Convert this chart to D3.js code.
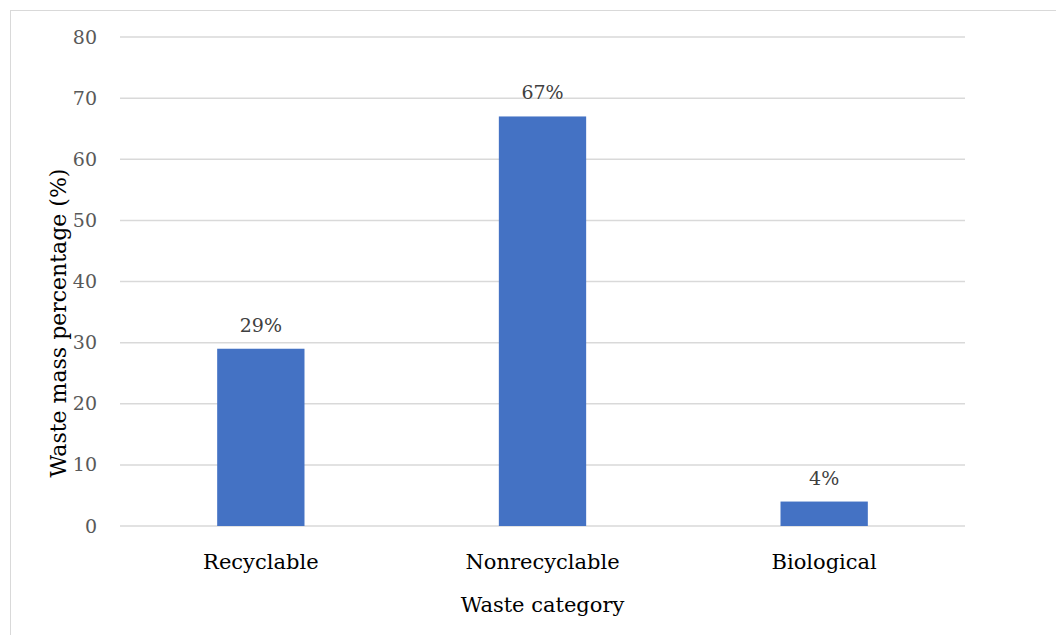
<!DOCTYPE html>
<html>
<head>
<meta charset="utf-8">
<script src="https://cdn.jsdelivr.net/npm/d3@7"></script>
<style>
  html, body { margin: 0; padding: 0; background: #fff; }
  svg text { font-family: "DejaVu Serif", "Liberation Serif", serif; }
</style>
</head>
<body>
<svg id="chart" width="1056" height="635"></svg>
<script>
// Waste composition by category (mass %)
const categories = ["Recyclable", "Nonrecyclable", "Biological"];
const values = [29, 67, 4];
const valueLabels = ["29%", "67%", "4%"];
const yTicks = [0, 10, 20, 30, 40, 50, 60, 70, 80];

const svg = d3.select("#chart");
const W = 1056, H = 635;
const plot = { left: 120, right: 965, top: 37, bottom: 526 };

// Chart-area frame (open on the right/bottom edges of the window)
svg.append("rect")
  .attr("x", 10.5).attr("y", 10.5)
  .attr("width", W + 10).attr("height", H + 10)
  .attr("fill", "#fff").attr("stroke", "#d9d9d9").attr("stroke-width", 1);

const x = d3.scaleBand()
  .domain(categories)
  .range([plot.left, plot.right])
  .paddingInner(0.69)
  .paddingOuter(0.345);

const y = d3.scaleLinear()
  .domain([0, 80])
  .range([plot.bottom, plot.top]);

// Horizontal gridlines
svg.append("g")
  .selectAll("line")
  .data(yTicks)
  .join("line")
  .attr("x1", plot.left).attr("x2", plot.right)
  .attr("y1", d => y(d)).attr("y2", d => y(d))
  .attr("stroke", "#d9d9d9").attr("stroke-width", 1.5);

// Y axis tick labels
const yAxis = d3.axisLeft(y).tickValues(yTicks).tickSize(0).tickPadding(0);
const yg = svg.append("g").attr("transform", `translate(${plot.left - 23},0)`).call(yAxis);
yg.select(".domain").remove();
yg.selectAll("text")
  .attr("fill", "#595959")
  .style("font-size", "19px")
  .style("font-family", '"DejaVu Serif", serif');

// Bars
svg.append("g")
  .selectAll("rect")
  .data(values)
  .join("rect")
  .attr("x", (d, i) => x(categories[i]))
  .attr("width", x.bandwidth())
  .attr("y", d => y(d))
  .attr("height", d => y(0) - y(d))
  .attr("fill", "#4472c4");

// Value labels above bars
svg.append("g")
  .selectAll("text")
  .data(values)
  .join("text")
  .attr("x", (d, i) => x(categories[i]) + x.bandwidth() / 2)
  .attr("y", d => y(d) - 17)
  .attr("text-anchor", "middle")
  .attr("fill", "#404040")
  .style("font-size", "19px")
  .text((d, i) => valueLabels[i]);

// X axis category labels
const xAxis = d3.axisBottom(x).tickSize(0).tickPadding(0);
const xg = svg.append("g").attr("transform", `translate(0,${plot.bottom + 43})`).call(xAxis);
xg.select(".domain").remove();
xg.selectAll("text")
  .attr("dy", 0)
  .attr("fill", "#000")
  .style("font-size", "21px")
  .style("font-family", '"DejaVu Serif", serif');

// Axis titles
svg.append("text")
  .attr("x", (plot.left + plot.right) / 2)
  .attr("y", 612)
  .attr("text-anchor", "middle")
  .attr("fill", "#000")
  .style("font-size", "21px")
  .text("Waste category");

svg.append("text")
  .attr("transform", `translate(66,323) rotate(-90)`)
  .attr("text-anchor", "middle")
  .attr("fill", "#000")
  .style("font-size", "22px")
  .text("Waste mass percentage (%)");
</script>
</body>
</html>
